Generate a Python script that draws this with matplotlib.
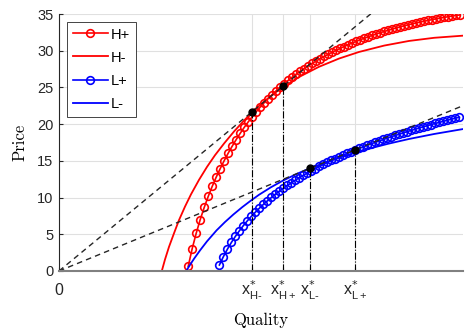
import matplotlib
matplotlib.use("Agg")
import matplotlib.pyplot as plt

plt.rcParams["font.family"] = ["Liberation Sans", "DejaVu Sans"]

# ---- values (quality in arbitrary units, price) ----
# H+ : marked curve
hp_q = [3.23, 3.33, 3.43, 3.53, 3.63, 3.73, 3.83, 3.93, 4.03, 4.13,
        4.23, 4.33, 4.43, 4.53, 4.63, 4.73, 4.83, 4.93, 5.03, 5.13,
        5.23, 5.33, 5.43, 5.53, 5.63, 5.73, 5.83, 5.93, 6.03, 6.13,
        6.23, 6.33, 6.43, 6.53, 6.63, 6.73, 6.83, 6.93, 7.03, 7.13,
        7.23, 7.33, 7.43, 7.53, 7.63, 7.73, 7.83, 7.93, 8.03, 8.13,
        8.23, 8.33, 8.43, 8.53, 8.63, 8.73, 8.83, 8.93, 9.03, 9.13,
        9.23, 9.33, 9.43, 9.53, 9.63, 9.73, 9.83, 9.93, 10.03]
hp_p = [0.63, 3.05, 5.14, 6.99, 8.65, 10.15, 11.52, 12.78, 13.94, 15.03,
        16.05, 17.00, 17.90, 18.75, 19.55, 20.30, 21.01, 21.69, 22.32, 22.92,
        23.49, 24.03, 24.55, 25.04, 25.51, 25.96, 26.39, 26.80, 27.19, 27.56,
        27.92, 28.27, 28.60, 28.91, 29.22, 29.51, 29.79, 30.06, 30.32, 30.57,
        30.82, 31.05, 31.27, 31.49, 31.69, 31.89, 32.08, 32.27, 32.45, 32.62,
        32.78, 32.94, 33.10, 33.24, 33.39, 33.52, 33.65, 33.78, 33.90, 34.02,
        34.13, 34.24, 34.34, 34.44, 34.54, 34.63, 34.72, 34.80, 34.88]

# H- : plain curve
hm_q = [2.57, 2.65, 2.75, 2.88, 3.00, 3.15, 3.30, 3.50, 3.70, 3.90, 4.13, 4.38,
        4.63, 4.83, 5.13, 5.50, 6.00, 6.50, 7.00, 7.50, 8.13, 8.75, 9.38, 10.10]
hm_p = [0.00, 1.57, 3.29, 5.21, 6.93, 8.77, 10.44, 12.41, 14.18, 15.77, 17.39, 19.03,
        20.51, 21.65, 23.10, 24.68, 26.42, 27.81, 28.93, 29.83, 30.70, 31.33, 31.76, 32.05]

# L+ : marked curve
lp_q = [4.01, 4.11, 4.21, 4.31, 4.41, 4.51, 4.61, 4.71, 4.81, 4.91,
        5.01, 5.11, 5.21, 5.31, 5.41, 5.51, 5.61, 5.71, 5.81, 5.91,
        6.01, 6.11, 6.21, 6.31, 6.41, 6.51, 6.61, 6.71, 6.81, 6.91,
        7.01, 7.11, 7.21, 7.31, 7.41, 7.51, 7.61, 7.71, 7.81, 7.91,
        8.01, 8.11, 8.21, 8.31, 8.41, 8.51, 8.61, 8.71, 8.81, 8.91,
        9.01, 9.11, 9.21, 9.31, 9.41, 9.51, 9.61, 9.71, 9.81, 9.91,
        10.01]
lp_p = [0.82, 1.96, 2.97, 3.89, 4.72, 5.48, 6.19, 6.84, 7.45, 8.02,
        8.56, 9.07, 9.55, 10.01, 10.45, 10.87, 11.26, 11.65, 12.01, 12.37,
        12.71, 13.03, 13.35, 13.66, 13.95, 14.24, 14.52, 14.79, 15.05, 15.30,
        15.55, 15.79, 16.03, 16.26, 16.48, 16.70, 16.92, 17.12, 17.33, 17.53,
        17.72, 17.91, 18.10, 18.29, 18.47, 18.64, 18.82, 18.99, 19.15, 19.32,
        19.48, 19.64, 19.79, 19.95, 20.10, 20.24, 20.39, 20.53, 20.68, 20.81,
        20.95]

# L- : plain curve
lm_q = [3.18, 3.28, 3.38, 3.53, 3.70, 3.94, 4.15, 4.36, 4.58, 4.78, 5.00, 5.30,
        5.61, 5.95, 6.28, 6.63, 7.00, 7.40, 7.80, 8.23, 8.75, 9.38, 10.10]
lm_p = [0.00, 0.88, 1.70, 2.84, 4.04, 5.54, 6.67, 7.70, 8.69, 9.52, 10.38, 11.41,
        12.34, 13.24, 14.00, 14.71, 15.42, 16.11, 16.73, 17.33, 17.98, 18.66, 19.33]

# optimal qualities (tangent points of the rays from the origin)
opt_names = ["H\u2010", "H+", "L\u2010", "L+"]
opt_q = [4.83, 5.61, 6.28, 7.40]
opt_p = [21.7, 25.2, 14.0, 16.5]

y_ticks = [0, 5, 10, 15, 20, 25, 30, 35]
x_max = 10.1

# -------------------
# plot
# -------------------
fig = plt.figure(figsize=(4.65, 3.33), dpi=100)
ax = fig.add_axes([59 / 465, 62 / 333, 404 / 465, 257 / 333])

ax.plot(hp_q, hp_p, color="red", lw=1.2, marker="o", ms=5.5, mfc="none", mew=1.2, label="H+")
ax.plot(hm_q, hm_p, color="red", lw=1.3, label="H-")
ax.plot(lp_q, lp_p, color="blue", lw=1.2, marker="o", ms=5.5, mfc="none", mew=1.2, label="L+")
ax.plot(lm_q, lm_p, color="blue", lw=1.3, label="L-")

# rays from the origin through the H- and L- tangent points
for i in (0, 2):
    slope = opt_p[i] / opt_q[i]
    ax.plot([0, x_max], [0, slope * x_max], color="0.15", lw=1.0, dashes=(4, 3))

# drop lines + tangent dots
for q, p in zip(opt_q, opt_p):
    ax.plot([q, q], [0, p], color="black", lw=0.8, ls="-.")
ax.plot(opt_q, opt_p, "o", color="black", ms=5, zorder=5)

ax.set_xlim(0, x_max)
ax.set_ylim(0, 35)
ax.set_yticks(y_ticks)
labels = ["0"] + [r"$\mathregular{x}^{*}_{\mathregular{%s}}$" % n for n in opt_names]
ax.set_xticks([0] + opt_q, labels)
ax.tick_params(direction="in", length=3, labelsize=10.5, colors="0.15", pad=4)
ax.tick_params(axis="x", labelsize=11.5, pad=14)
for t in ax.get_xticklabels():
    t.set_verticalalignment("center")

ax.grid(True, color="0.88", lw=0.8)
ax.set_axisbelow(True)
for s in ("top", "right"):
    ax.spines[s].set_visible(False)
ax.spines["left"].set_color("0.15")
ax.spines["left"].set_linewidth(0.8)
ax.spines["bottom"].set_color("0.5")
ax.spines["bottom"].set_linewidth(1.5)

ax.set_xlabel("Quality", fontfamily="cmr10", fontsize=12, labelpad=8)
ax.set_ylabel("Price", fontfamily="cmr10", fontsize=12, labelpad=7)

leg = ax.legend(loc="upper left", bbox_to_anchor=(0.019, 0.97), borderaxespad=0,
                fontsize=10.5, handlelength=2.4, handletextpad=0.2, labelspacing=0.62,
                borderpad=0.4, fancybox=False, framealpha=1, edgecolor="0.15")
leg.get_frame().set_linewidth(0.6)

fig.savefig("out.png", dpi=100)
